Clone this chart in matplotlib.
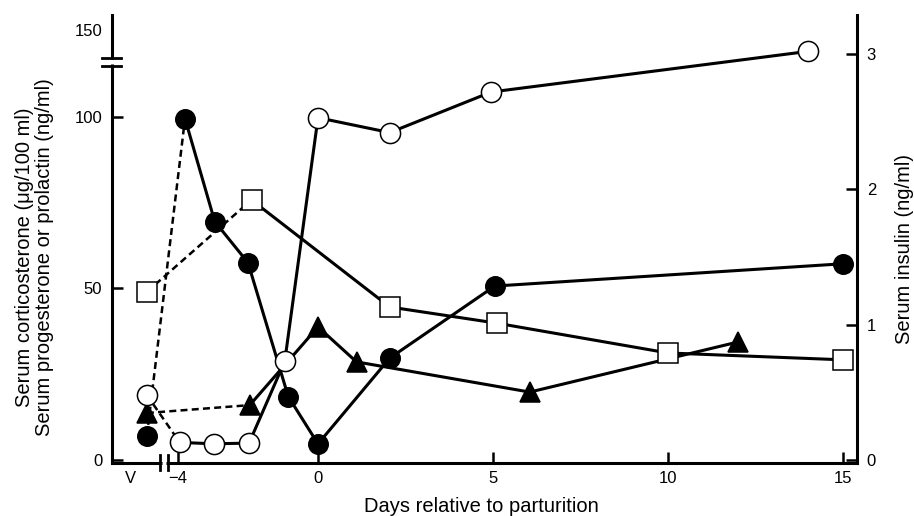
import matplotlib

matplotlib.use("Agg")
import matplotlib.pyplot as plt  # noqa: E402
import matplotlib.transforms as mtransforms  # noqa: E402

plt.rcParams["font.family"] = ["Liberation Sans", "DejaVu Sans"]
plt.rcParams["font.size"] = 12

# x position of the pre-partum "V" sample (left of the axis break)
V_DAY = -4.89

# filled circles, left axis
cort_days = [V_DAY, -3.8, -2.95, -2.0, -0.85, 0.0, 2.05, 5.05, 15.0]
cort_vals = [7.0, 99.5, 69.5, 57.5, 18.5, 4.7, 29.7, 50.7, 57.2]

# open squares, left axis
prl_days = [V_DAY, -1.9, 2.05, 5.1, 10.0, 15.0]
prl_vals = [49.0, 75.8, 44.6, 39.9, 31.2, 29.2]

# filled triangles, left axis
prog_days = [V_DAY, -1.95, 0.0, 1.1, 6.05, 12.0]
prog_vals = [13.7, 16.0, 38.8, 28.6, 19.8, 34.4]

# open circles, right axis (insulin)
ins_days = [V_DAY, -3.95, -2.97, -1.97, -0.95, 0.0, 2.05, 4.95, 14.0]
ins_vals = [0.48, 0.13, 0.12, 0.125, 0.73, 2.53, 2.42, 2.72, 3.02]

x_ticks = [-4, 0, 5, 10, 15]
x_tick_labels = ["\u22124", "0", "5", "10", "15"]
left_ticks = [0, 50, 100]
right_ticks = [0, 1, 2, 3]

LABEL_SIZE = 14.5


def draw_series(ax, days, vals, marker, face, size):
    """First segment (V sample) dashed, remainder solid, markers on top."""
    ax.plot(days[:2], vals[:2], color="black", lw=1.8, ls=(0, (2.8, 1.7)), zorder=2)
    ax.plot(days[1:], vals[1:], color="black", lw=2.2, zorder=2)
    ax.plot(days, vals, ls="none", marker=marker, ms=size, mfc=face,
            mec="black", mew=1.1, zorder=3)


fig = plt.figure(figsize=(9.14, 5.16), dpi=100)
ax = fig.add_axes([112 / 914, 53 / 516, 745 / 914, 448 / 516])
ax.set_xlim(-5.886, 15.4)
ax.set_ylim(-0.87, 129.7)

draw_series(ax, cort_days, cort_vals, "o", "black", 14)
draw_series(ax, prl_days, prl_vals, "s", "white", 14)
draw_series(ax, prog_days, prog_vals, "^", "black", 14.5)

ax2 = ax.twinx()
ax2.set_ylim(-0.022, 3.289)
draw_series(ax2, ins_days, ins_vals, "o", "white", 14.5)

# ticks
ax.set_xticks(x_ticks, x_tick_labels)
ax.set_xticks([-5.37], ["V"], minor=True)
ax.set_yticks(left_ticks, [str(t) for t in left_ticks])
ax.set_yticks([125.4], ["150"], minor=True)
ax.tick_params(which="major", direction="in", length=8, width=1.8)
ax.tick_params(which="minor", length=0)
ax.tick_params(axis="x", which="both", pad=6)
ax.tick_params(axis="y", which="both", pad=7)
ax2.set_yticks(right_ticks, [str(t) for t in right_ticks])
ax2.tick_params(direction="in", length=8, width=1.8, pad=7)

for name in ("top", "right"):
    ax.spines[name].set_visible(False)
for name in ("top", "left", "bottom"):
    ax2.spines[name].set_visible(False)
for sp in (ax.spines["left"], ax.spines["bottom"], ax2.spines["right"]):
    sp.set_linewidth(2.2)

# axis breaks
ytrans = mtransforms.blended_transform_factory(ax.transAxes, ax.transData)
ax.plot([0, 0], [115.3, 116.8], color="white", lw=5, transform=ytrans,
        clip_on=False, zorder=5, solid_capstyle="butt")
for yb in (114.9, 117.2):
    ax.plot([-0.013, 0.012], [yb, yb], color="black", lw=2.0, transform=ytrans,
            clip_on=False, zorder=6)
xtrans = mtransforms.blended_transform_factory(ax.transData, ax.transAxes)
ax.plot([-4.47, -4.33], [0, 0], color="white", lw=5, transform=xtrans,
        clip_on=False, zorder=5, solid_capstyle="butt")
for xb in (-4.51, -4.29):
    ax.plot([xb, xb], [-0.016, 0.018], color="black", lw=2.0, transform=xtrans,
            clip_on=False, zorder=6)

# labels
ax.set_xlabel("Days relative to parturition", fontsize=LABEL_SIZE)
ax.xaxis.set_label_coords(0.496, -0.076)
ax.set_ylabel("Serum corticosterone (\u03bcg/100 ml)\n"
              "Serum progesterone or prolactin (ng/ml)",
              fontsize=LABEL_SIZE, linespacing=1.05)
ax.yaxis.set_label_coords(-0.078, 0.46)
ax2.set_ylabel("Serum insulin (ng/ml)", fontsize=LABEL_SIZE)
ax2.yaxis.set_label_coords(1.051, 0.478)

fig.savefig("out.png", dpi=100)
plt.close(fig)
